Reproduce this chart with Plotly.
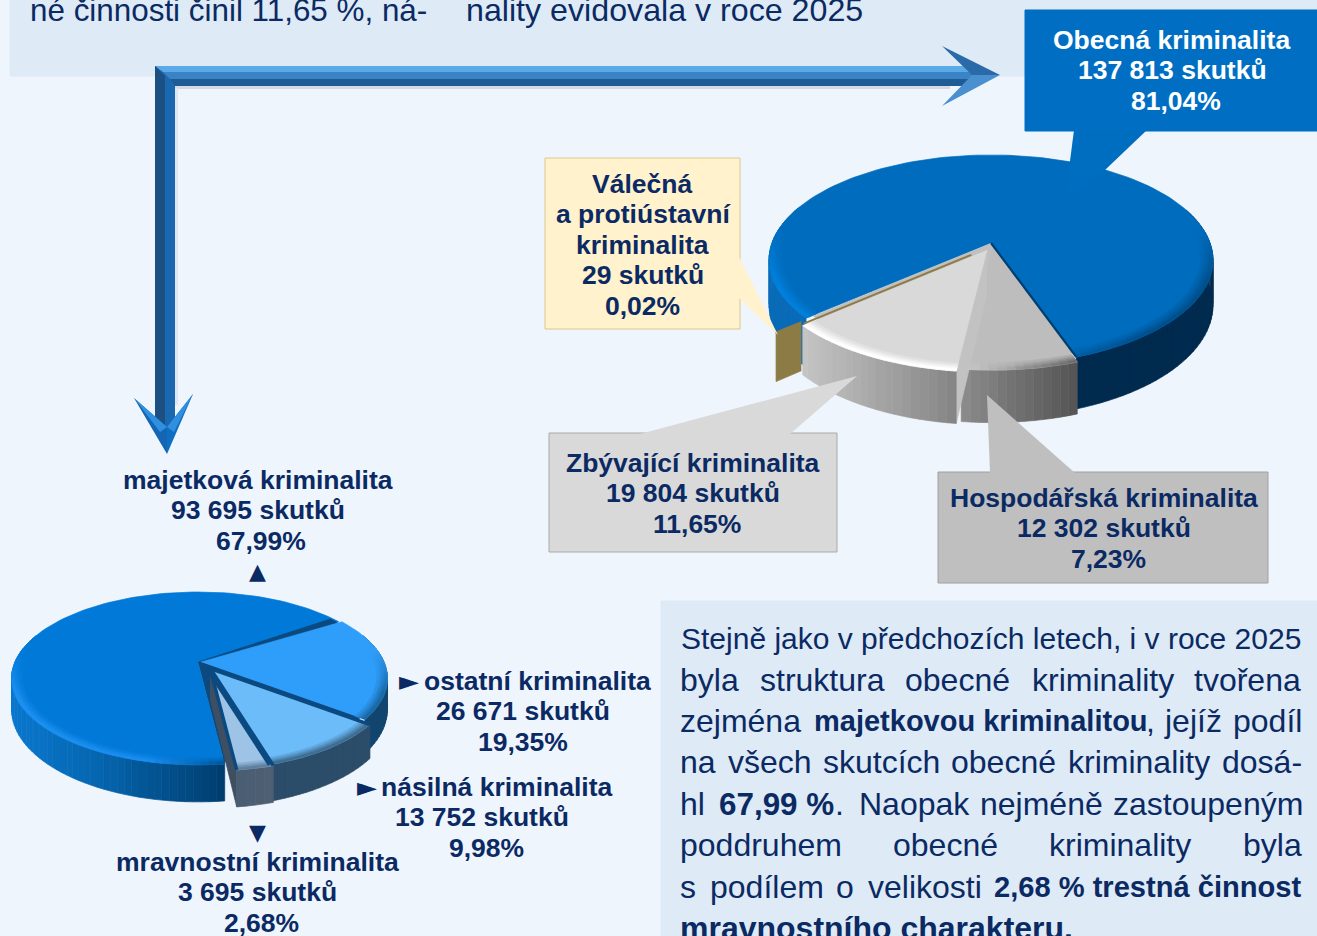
import math
import plotly.graph_objects as go

# ---------- data ----------
main_categories = ["Obecná kriminalita", "Hospodářská kriminalita", "Zbývající kriminalita", "Válečná a protiústavní kriminalita"]
main_counts = [137813, 12302, 19804, 29]
main_shares = [81.04, 7.23, 11.65, 0.02]
sub_categories = ["majetková kriminalita", "ostatní kriminalita", "násilná kriminalita", "mravnostní kriminalita"]
sub_counts = [93695, 26671, 13752, 3695]
sub_shares = [67.99, 19.35, 9.98, 2.68]

NAVY = "#0b2a63"
W, H = 1317, 936
fig = go.Figure()


def hex2rgb(c):
    return tuple(int(c[i:i + 2], 16) for i in (1, 3, 5))


def mix(a, b, t):
    t = max(0, min(1, t))
    ra, rb = hex2rgb(a), hex2rgb(b)
    return "#%02x%02x%02x" % tuple(int(round(ra[i] + (rb[i] - ra[i]) * t)) for i in range(3))


def ramp(stops, x):
    if x <= stops[0][0]:
        return stops[0][1]
    for (x0, c0), (x1, c1) in zip(stops, stops[1:]):
        if x <= x1:
            return mix(c0, c1, (x - x0) / (x1 - x0))
    return stops[-1][1]


def poly(xs, ys, color):
    fig.add_trace(go.Scatter(x=xs, y=ys, mode="lines", fill="toself", fillcolor=color,
                             line=dict(color=color, width=0.7), hoverinfo="skip", showlegend=False))


def line(xs, ys, color, width):
    fig.add_trace(go.Scatter(x=xs, y=ys, mode="lines", line=dict(color=color, width=width),
                             hoverinfo="skip", showlegend=False))


class Pie:
    def __init__(self, cx, cy, R, Hy, k, D):
        self.cx, self.cy, self.R, self.Hy, self.k, self.D = cx, cy, R, Hy, k, D

    def p(self, r, deg, dx=0, dy=0, depth=0):
        a = math.radians(deg)
        u, v = r * math.sin(a), -r * math.cos(a)
        s = 1 / (1 - self.k * v)
        return (self.cx + self.R * u * s + dx, self.cy + self.Hy * v * s + self.D * depth * s + dy)

    def sector(self, a0, a1, color, r=1.0, dx=0, dy=0):
        n = max(2, int((a1 - a0) / 2.5))
        pts = [self.p(0, a0, dx, dy)] + [self.p(r, a0 + (a1 - a0) * i / n, dx, dy) for i in range(n + 1)]
        poly([q[0] for q in pts], [q[1] for q in pts], color)

    def wedge(self, a0, a1, st):
        dx, dy = st.get("off", (0, 0))
        n = max(2, int((a1 - a0) / 2))
        angs = [a0 + (a1 - a0) * i / n for i in range(n + 1)]
        groups = {}

        def add(pts, color):
            g = groups.setdefault(color, ([], []))
            g[0].extend([q[0] for q in pts] + [pts[0][0], None])
            g[1].extend([q[1] for q in pts] + [pts[0][1], None])

        for ang, col in ((a0, st.get("cut0")), (a1, st.get("cut1"))):
            if col:
                pts = [self.p(0, ang, dx, dy), self.p(1, ang, dx, dy), self.p(1, ang, dx, dy, 1), self.p(0, ang, dx, dy, 1)]
                poly([q[0] for q in pts], [q[1] for q in pts], col)
        for b0, b1 in zip(angs, angs[1:]):
            if -math.cos(math.radians((b0 + b1) / 2)) < -0.35:
                continue
            x = self.p(1, (b0 + b1) / 2, dx, dy)[0]
            add([self.p(1, b0, dx, dy), self.p(1, b1, dx, dy), self.p(1, b1, dx, dy, 1), self.p(1, b0, dx, dy, 1)],
                ramp(st["side"], round(x / 4) * 4))
        for c, (xs, ys) in groups.items():
            poly(xs, ys, c)
        pts = [self.p(0, a0, dx, dy)] + [self.p(1, b, dx, dy) for b in angs]
        poly([q[0] for q in pts], [q[1] for q in pts], st["top"])
        groups.clear()
        bands = [0.945, 0.96, 0.972, 0.984, 1.0]
        for i, (r0, r1) in enumerate(zip(bands, bands[1:])):
            for b0, b1 in zip(angs, angs[1:]):
                m = (b0 + b1) / 2
                v = -math.cos(math.radians(m))
                f = (v + 0.15) / 0.5
                if f <= 0:
                    continue
                x = self.p(1, m, dx, dy)[0]
                edge = ramp(st["edge"], round(x / 8) * 8)
                col = mix(st["top"], edge, min(1, f) * (i + 1) / 4)
                add([self.p(r0, b0, dx, dy), self.p(r0, b1, dx, dy), self.p(r1, b1, dx, dy), self.p(r1, b0, dx, dy)], col)
        for c, (xs, ys) in groups.items():
            poly(xs, ys, c)


def rect(x0, y0, x1, y1, fill, border=None, layer="below"):
    fig.add_shape(type="rect", x0=x0, y0=y0, x1=x1, y1=y1, fillcolor=fill, layer=layer,
                  line=dict(color=border or fill, width=1))


def path(pts, fill, layer="above"):
    d = "M " + " L ".join(f"{a},{b}" for a, b in pts) + " Z"
    fig.add_shape(type="path", path=d, fillcolor=fill, line=dict(width=0, color=fill), layer=layer)


# panels
rect(10, -5, 1320, 76, "#deeaf6")
rect(661, 601, 1320, 940, "#deeaf6")

# ---------- main pie ----------
big = Pie(991, 243, 219, 102.3, 0.162, 44)
big_styles = [
    dict(top="#006cbd", side=[(800, "#0a6cb8"), (1000, "#002b4f")], edge=[(800, "#0080dc"), (1000, "#006cbd"), (1150, "#00508e")]),
    dict(top="#bdbdbd", off=(1, 5), side=[(960, "#8c8c8c"), (1075, "#555555")], edge=[(960, "#d0d0d0"), (1075, "#6a6a6a")]),
    dict(top="#d9d9d9", off=(-4, 7), cut0="#c2c2c2", side=[(800, "#c6c6c6"), (955, "#858585")], edge=[(800, "#ffffff"), (955, "#ffffff")]),
]
big_start = 229
ang = big_start
big_angles = []
for share in main_shares:
    big_angles.append((ang, ang + share * 3.6))
    ang += share * 3.6
big.wedge(*big_angles[0], big_styles[0])
big.sector(big_angles[1][0], big_angles[3][0], "#c0c0c0", r=0.97)
big.wedge(*big_angles[1], big_styles[1])
big.wedge(*big_angles[2], big_styles[2])
g0 = big_angles[3][0]
line(*zip(big.p(0.0, big_angles[1][0]), big.p(1, big_angles[1][0])), "#003f6f", 2.2)
line(*zip(big.p(0.1, g0, -3, 5), big.p(1.0, g0, -3, 5)), "#8f7c45", 2)
pts = [big.p(1.0, g0 + 0.6, -4, 4), big.p(1.12, g0 + 0.6, -4, 4), big.p(1.12, g0 + 0.6, -4, 4, 1), big.p(1.0, g0 + 0.6, -4, 4, 1)]
poly([q[0] for q in pts], [q[1] for q in pts], "#8c7b45")

# ---------- sub pie ----------
small = Pie(198, 662, 183, 83.3, 0.19, 30)
small_styles = [
    dict(top="#0079d8", side=[(10, "#0a78cf"), (100, "#0565ae"), (224, "#003d6e")], edge=[(10, "#1c90f0"), (150, "#1a8cf0"), (224, "#005a9e")]),
    dict(top="#2f9efa", off=(3, 0), side=[(300, "#12466f"), (380, "#12466f")], edge=[(300, "#1a6aa8"), (380, "#1a6aa8")]),
    dict(top="#6cbcfa", off=(8, 5), side=[(270, "#2c4d69"), (370, "#2c4d69")], edge=[(270, "#3f6e92"), (370, "#3f6e92")]),
    dict(top="#9dc3e6", off=(12, 6), cut1="#3f4f62", side=[(230, "#4a5c70"), (280, "#4f6074")], edge=[(230, "#5f7f9e"), (280, "#5f7f9e")]),
]
small_start = 173.2
small_angles = []
ang = small_start
for share in sub_shares:
    small_angles.append((ang, ang + share * 3.6))
    ang += share * 3.6
sep = "#0b4a80"
small.wedge(*small_angles[0], small_styles[0])
small.sector(54.5, 173.2, sep, r=0.985)
for (a0, a1), st in zip(small_angles[1:], small_styles[1:]):
    small.wedge(a0, a1, st)
for (a0, a1), st in zip(small_angles[2:], small_styles[2:]):
    dx, dy = st["off"]
    line(*zip(small.p(0, a0, dx, dy), small.p(1.0, a0, dx, dy)), sep, 3.5)
    line(*zip(small.p(0, a1, dx, dy), small.p(1.0, a1, dx, dy)), sep, 3.5)

# ---------- callouts ----------
rect(1025, 10, 1320, 131, "#006fc3", layer="above")
path([(1074, 130), (1147, 130), (1105, 170), (1065, 200)], "#006ec0")
rect(545, 158, 740, 329, "#fff2cc", "#d9c88f", layer="above")
path([(738, 255), (778, 335), (739, 298)], "#fff2cc")
rect(549, 433, 837, 552, "#d9d9d9", "#a9a9a9", layer="above")
path([(640, 434), (857, 376), (790, 434)], "#d9d9d9")
rect(938, 472, 1268, 583, "#bfbfbf", "#a0a0a0", layer="above")
path([(990, 473), (987, 395), (1075, 473)], "#bfbfbf")

# ---------- arrows ----------
path([(160, 86), (950, 86), (950, 89), (160, 89)], "#d3dae4", layer="below")
path([(175, 88), (178, 88), (178, 405), (175, 405)], "#dfe6ef", layer="below")
path([(155, 66), (972, 66), (972, 86), (175, 86), (175, 428), (155, 428)], "#2068a8")
path([(155, 66), (972, 66), (972, 72), (163, 72)], "#5aa9e8")
path([(163, 72), (972, 72), (972, 79), (170, 79)], "#3a83c4")
path([(170, 79), (972, 79), (972, 86), (175, 86)], "#1f5c96")
path([(155, 66), (165, 76), (165, 428), (155, 428)], "#1c4f82")
path([(165, 76), (175, 86), (175, 428), (165, 428)], "#1a69b0")
# right head
path([(942, 46), (1000, 75), (972, 75)], "#2b6aa8")
path([(942, 106), (1000, 75), (972, 75)], "#4a8fd0")
# down head
path([(134, 398), (167, 427), (167, 454)], "#1565b5")
path([(193, 394), (167, 427), (167, 454)], "#0d6fc4")
path([(134, 398), (167, 427), (160, 432)], "#2f90e0")
path([(193, 394), (167, 427), (174, 432)], "#2f90e0")


# ---------- text ----------
def text(x, y, s, size=26.5, color=NAVY, bold=True, anchor="center", font="Liberation Sans"):
    fig.add_annotation(x=x, y=y, text=f"<b>{s}</b>" if bold else s, showarrow=False, xanchor=anchor, yanchor="middle",
                       font=dict(family=font, size=size, color=color), xref="x", yref="y")


def nbsp(n):
    return f"{n:,}".replace(",", " ")


def pct(v):
    return f"{v:.2f}".replace(".", ",") + "%"


def block(items, y0, color=NAVY, step=30.4):
    for i, (cx, s) in enumerate(items):
        text(cx, y0 + i * step, s, color=color)


block([(1171, "Obecná kriminalita"), (1172.5, f"{nbsp(main_counts[0])} skutků"), (1176, pct(main_shares[0]))], 40, color="#ffffff")
block([(642, "Válečná"), (643, "a protiústavní"), (642, "kriminalita"), (643, f"{main_counts[3]} skutků"), (642, pct(main_shares[3]))], 184)
block([(693, "Zbývající kriminalita"), (693, f"{nbsp(main_counts[2])} skutků"), (697, pct(main_shares[2]))], 463)
block([(1104, "Hospodářská kriminalita"), (1104, f"{nbsp(main_counts[1])} skutků"), (1108, pct(main_shares[1]))], 498)
block([(258, sub_categories[0]), (258, f"{nbsp(sub_counts[0])} skutků"), (261, pct(sub_shares[0]))], 480)
text(257, 571, "▲", size=22, font="DejaVu Sans", bold=False)
text(409, 681, "►", size=26, font="DejaVu Sans", bold=False)
block([(537, sub_categories[1]), (523, f"{nbsp(sub_counts[1])} skutků"), (523, pct(sub_shares[1]))], 681)
text(367, 787, "►", size=26, font="DejaVu Sans", bold=False)
block([(496, sub_categories[2]), (482, f"{nbsp(sub_counts[2])} skutků"), (486, pct(sub_shares[2]))], 787)
text(257, 832, "▼", size=22, font="DejaVu Sans", bold=False)
block([(257, sub_categories[3]), (257, f"{nbsp(sub_counts[3])} skutků"), (261, pct(sub_shares[3]))], 862)

top_fragments = [(28, 10, "né činnosti činil 11,65 %, ná-", 31.4), (464, 10, "nality evidovala v roce 2025", 32.2)]
for x, y, s, size in top_fragments:
    text(x, y, s, size=size, bold=False, anchor="left")

para = [
    (638, [(681, "Stejně jako v předchozích letech, i v roce 2025", 0, 30)]),
    (680, [(680, "byla", 0, 32), (760, "struktura", 0, 32), (905, "obecné", 0, 32), (1032, "kriminality", 0, 32), (1194, "tvořena", 0, 32)]),
    (721, [(680, "zejména", 0, 32), (814, "majetkovou kriminalitou", 1, 29), (1146, ",", 0, 32), (1164, "jejíž", 0, 32), (1233, "podíl", 0, 32)]),
    (762, [(680, "na", 0, 32), (728, "všech", 0, 32), (823, "skutcích", 0, 32), (951, "obecné", 0, 32), (1068, "kriminality", 0, 32), (1222, "dosá-", 0, 32)]),
    (804, [(680, "hl", 0, 32), (719, "67,99 %", 1, 31.4), (835, ".", 0, 32), (859, "Naopak", 0, 32), (980, "nejméně", 0, 32), (1113, "zastoupeným", 0, 32)]),
    (845, [(680, "poddruhem", 0, 32), (893, "obecné", 0, 32), (1049, "kriminality", 0, 32), (1243, "byla", 0, 32)]),
    (887, [(680, "s", 0, 32), (710, "podílem", 0, 32), (836, "o", 0, 32), (868, "velikosti", 0, 32), (994, "2,68 % trestná činnost", 1, 29.1)]),
    (928, [(680, "mravnostního charakteru.", 1, 32)]),
]
for y, words in para:
    for x, s, b, size in words:
        text(x - 2, y, s, size=size, bold=bool(b), anchor="left")

fig.update_layout(width=W, height=H, margin=dict(l=0, r=0, t=0, b=0), paper_bgcolor="#eff5fd", plot_bgcolor="#eff5fd",
                  showlegend=False,
                  xaxis=dict(range=[0, W], visible=False, fixedrange=True),
                  yaxis=dict(range=[H, 0], visible=False, fixedrange=True))
fig.write_html("out.html", config={"displayModeBar": False},
               post_script="document.body.style.margin='0';document.body.style.overflow='hidden';")
